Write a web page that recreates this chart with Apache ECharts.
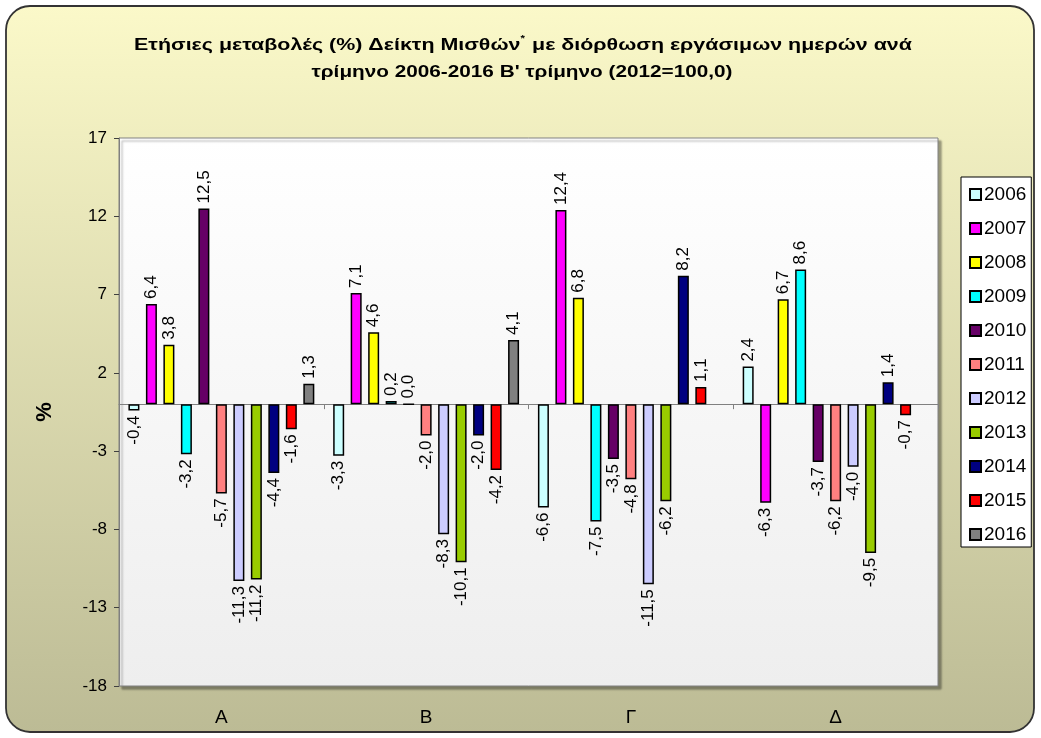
<!DOCTYPE html>
<html><head><meta charset="utf-8">
<script src="https://cdn.jsdelivr.net/npm/echarts@6/dist/echarts.min.js"></script>
<style>html,body{margin:0;padding:0;background:#fff}#c{width:1041px;height:738px}</style>
</head><body><div id="c"></div>
<script>
const quarters = ['Α', 'Β', 'Γ', 'Δ'];
const years = ['2006','2007','2008','2009','2010','2011','2012','2013','2014','2015','2016'];
const v2006 = [-0.4, -3.3, -6.6, 2.4];
const v2007 = [6.4, 7.1, 12.4, -6.3];
const v2008 = [3.8, 4.6, 6.8, 6.7];
const v2009 = [-3.2, 0.2, -7.5, 8.6];
const v2010 = [12.5, 0.0, -3.5, -3.7];
const v2011 = [-5.7, -2.0, -4.8, -6.2];
const v2012 = [-11.3, -8.3, -11.5, -4.0];
const v2013 = [-11.2, -10.1, -6.2, -9.5];
const v2014 = [-4.4, -2.0, 8.2, 1.4];
const v2015 = [-1.6, -4.2, 1.1, -0.7];
const v2016 = [1.3, 4.1, null, null];
const yTicks = [-18, -13, -8, -3, 2, 7, 12, 17];
const colors = ['#CCFFFF','#FF00FF','#FFFF00','#00FFFF','#660066','#FF8080','#CCCCFF','#99CC00','#000080','#FF0000','#808080'];
const allValues = [v2006, v2007, v2008, v2009, v2010, v2011, v2012, v2013, v2014, v2015, v2016];
const titleLine1 = 'Ετήσιες μεταβολές (%) Δείκτη Μισθών{sup|*} με διόρθωση εργάσιμων ημερών ανά';
const titleLine2 = 'τρίμηνο 2006-2016 Β\' τρίμηνο (2012=100,0)';

const fmt = v => v.toFixed(1).replace('.', ',');
const FONT = '"Liberation Sans", Arial, sans-serif';

const series = years.map((y, i) => ({
  name: y,
  type: 'bar',
  xAxisIndex: 0,
  barWidth: 11,
  barGap: '59%',
  itemStyle: { color: colors[i], borderColor: '#000', borderWidth: 1.5 },
  data: allValues[i].map(v => v === null ? '-' : ({
    value: v,
    label: {
      show: true,
      position: v >= 0 ? 'top' : 'bottom',
      rotate: 90,
      align: v >= 0 ? 'left' : 'right',
      verticalAlign: 'middle',
      distance: 5,
      formatter: () => fmt(v),
      color: '#000',
      fontSize: 17,
      fontFamily: FONT
    }
  }))
}));

const titleStyle = {
  fontFamily: FONT, fontSize: 17, fontWeight: 'bold', fill: '#000',
  align: 'center', verticalAlign: 'middle'
};

const chart = echarts.init(document.getElementById('c'));
chart.setOption({
  animation: false,
  color: colors,
  graphic: [{
    type: 'rect',
    z: -10,
    silent: true,
    shape: { x: 6, y: 6, width: 1028, height: 726, r: 24 },
    style: {
      fill: new echarts.graphic.LinearGradient(0, 0, 0, 1, [
        { offset: 0, color: '#FBF9C9' },
        { offset: 1, color: '#BCBB95' }
      ]),
      stroke: '#333333',
      lineWidth: 1.8
    }
  }, {
    type: 'text',
    x: 523, y: 45, scaleX: 1.26, z: 10, silent: true,
    style: Object.assign({}, titleStyle, {
      text: titleLine1,
      rich: { sup: { fontFamily: FONT, fontSize: 9, fontWeight: 'bold', fill: '#000', padding: [0, 1, 12, 0] } }
    })
  }, {
    type: 'text',
    x: 522, y: 72, scaleX: 1.22, z: 10, silent: true,
    style: Object.assign({}, titleStyle, { text: titleLine2 })
  }],
  legend: {
    orient: 'vertical',
    left: 961,
    top: 177,
    data: years,
    itemWidth: 11,
    itemHeight: 11,
    itemGap: 15,
    padding: [8, 5, 3, 8],
    backgroundColor: '#fff',
    borderColor: '#000',
    borderWidth: 1,
    borderRadius: 0,
    textStyle: { fontFamily: FONT, fontSize: 19, color: '#000', padding: [0, 0, 0, -2] },
    icon: 'rect'
  },
  grid: {
    left: 119, right: 103, top: 138, bottom: 52,
    show: true,
    backgroundColor: new echarts.graphic.LinearGradient(0, 0, 0, 1, [
      { offset: 0, color: '#FFFFFF' },
      { offset: 1, color: '#EEEEEE' }
    ]),
    borderColor: '#808080',
    borderWidth: 1,
    shadowColor: 'rgba(0,0,0,0.35)',
    shadowOffsetX: 3,
    shadowOffsetY: 3,
    shadowBlur: 2
  },
  xAxis: [{
    type: 'category',
    data: quarters,
    axisLine: { onZero: true, lineStyle: { color: '#808080', width: 1 } },
    axisTick: { show: true, inside: false, length: 5, lineStyle: { color: '#808080' } },
    axisLabel: { show: false }
  }, {
    type: 'category',
    data: quarters,
    position: 'bottom',
    axisLine: { show: false, onZero: false },
    axisTick: { show: false },
    axisLabel: { show: true, margin: 22, fontFamily: FONT, fontSize: 19, color: '#000' }
  }],
  yAxis: {
    type: 'value',
    min: -18,
    max: 17,
    name: '%',
    nameLocation: 'middle',
    nameRotate: 90,
    nameGap: 63,
    nameTextStyle: { fontFamily: FONT, fontSize: 22, fontWeight: 'bold', color: '#000' },
    splitLine: { show: false },
    axisLine: { show: true, lineStyle: { color: '#808080' } },
    axisTick: { show: true, length: 5, customValues: yTicks, lineStyle: { color: '#404040' } },
    axisLabel: { customValues: yTicks, margin: 12, fontFamily: FONT, fontSize: 17, color: '#000' }
  },
  series: series
});
</script></body></html>
